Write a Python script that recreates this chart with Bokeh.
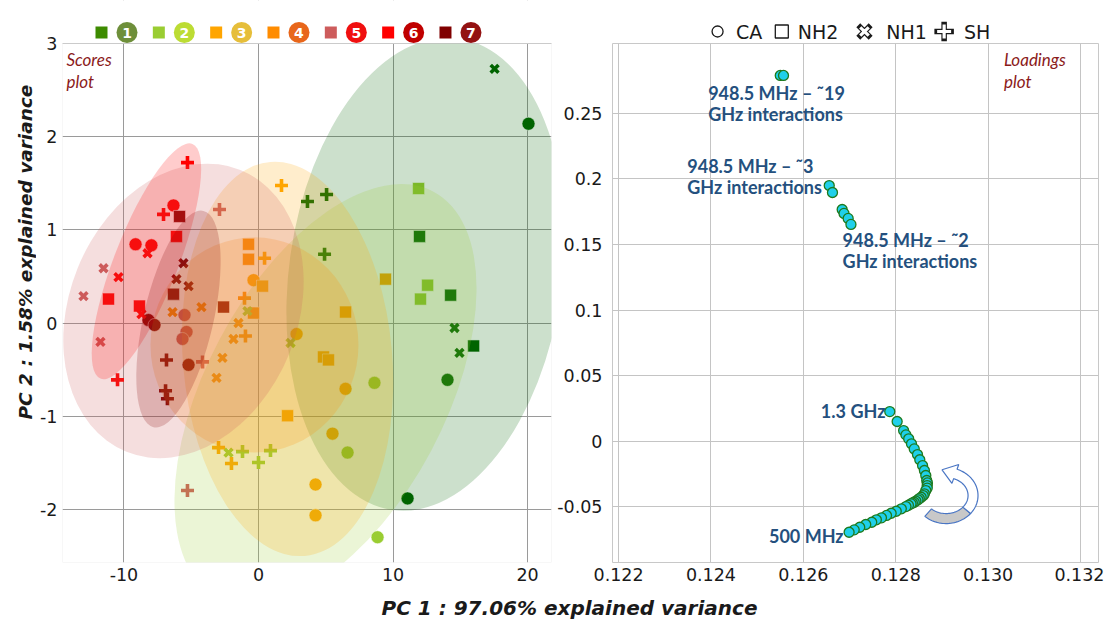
import numpy as np
from bokeh.plotting import figure
from bokeh.models import Label, Range1d, FixedTicker, PrintfTickFormatter, BoxAnnotation
from bokeh.layouts import row, column
from bokeh.core.properties import value
from bokeh.embed import file_html
from bokeh.resources import INLINE

# ---------------- data : scores plot ----------------
group_names = ["1", "2", "3", "4", "5", "6", "7"]
group_colors = ["#006400", "#9acd32", "#ffa500", "#ff8c00", "#cd5c5c", "#ff0000", "#800000"]
legend_square_colors = ["#3d8b00", "#9acd32", "#ffa500", "#ff8c00", "#cd5c5c", "#ff0000", "#800000"]
legend_badge_colors = ["#6e8f3a", "#bcdc34", "#e6be3a", "#e8661a", "#f01010", "#c00000", "#931212"]

# CA (circles)
ca_x = [20.07, 14.05, 11.08, 8.62, 6.62, 8.85, 2.83, 6.47, 5.50, 4.24, 4.24, -0.37,
        -5.50, -5.35, -5.65, -6.32, -9.14, -7.96, -8.18, -7.73, -5.20]
ca_y = [2.139, -0.610, -1.882, -0.642, -1.390, -2.299, -0.118, -0.706, -1.187, -1.733, -2.064, 0.460,
        0.086, -0.096, -0.171, 1.262, 0.845, 0.834, 0.032, -0.021, -0.449]
ca_g = [1, 1, 1, 2, 2, 2, 3, 3, 3, 3, 3, 3, 5, 5, 5, 6, 6, 6, 7, 7, 7]

# NH2 (squares)
nh2_x = [11.97, 14.28, 15.99, 11.90, 12.57, 12.04, 9.44, 6.47, 4.83, 5.20, 2.16, 0.30,
         -0.74, -0.74, -0.37, -6.10, -11.15, -8.85, -5.87, -6.32, -2.60]
nh2_y = [0.930, 0.299, -0.246, 1.444, 0.406, 0.257, 0.471, 0.118, -0.364, -0.396, -0.995, 0.396,
         0.845, 0.684, 0.107, 0.930, 0.257, 0.182, 1.144, 0.310, 0.171]
nh2_g = [1, 1, 1, 2, 2, 2, 3, 3, 3, 3, 3, 3, 4, 4, 4, 6, 6, 6, 7, 7, 7]

# NH1 (x)
nh1_x = [17.55, 14.57, 14.94, -2.23, 2.38, -0.82, -6.39, -4.24, -1.49, -1.86, -2.68, -3.12,
         -11.52, -13.01, -11.75, -8.25, -10.41, -8.70, -5.58, -6.10, -5.20]
nh1_y = [2.727, -0.053, -0.321, -1.390, -0.214, 0.128, 0.118, 0.171, 0.0, -0.171, -0.374, -0.588,
         0.588, 0.289, -0.203, 0.749, 0.492, 0.096, 0.642, 0.471, 0.396]
nh1_g = [1, 1, 1, 2, 2, 2, 4, 4, 4, 4, 4, 4, 5, 5, 5, 6, 6, 6, 7, 7, 7]

# SH (plus)
sh_x = [3.64, 5.06, 4.91, -1.19, 0.89, 0.0, 1.71, 0.45, -2.97, -2.01, -1.04, -0.97,
        -2.90, -4.16, -5.28, -5.28, -7.06, -10.48, -6.84, -6.91, -6.77]
sh_y = [1.305, 1.380, 0.738, -1.380, -1.369, -1.497, 1.476, 0.695, -1.337, -1.508, 0.267, -0.139,
        1.219, -0.417, -1.797, 1.722, 1.166, -0.610, -0.396, -0.727, -0.813]
sh_g = [1, 1, 1, 2, 2, 2, 3, 3, 3, 3, 4, 4, 5, 5, 5, 6, 6, 6, 7, 7, 7]

# confidence ellipses (one per group)
ell_x = [12.42, 4.98, 2.16, -0.30, -5.58, -8.33, -5.95]
ell_y = [0.524, -0.770, -0.385, -0.235, 0.130, 0.663, 0.043]
ell_w = [35.4, 34.2, 29.4, 15.46, 22.6, 18.74, 16.5]
ell_h = [2.93, 2.567, 2.246, 2.31, 2.45, 0.684, 0.749]
ell_angle_deg = [82, 62, 95, 0, 68, 68.6, 77]

score_x_ticks = [-10, 0, 10, 20]
score_y_ticks = [-2, -1, 0, 1, 2, 3]

# ---------------- data : loadings plot ----------------
load_x = [0.12550, 0.12557, 0.12656, 0.12663, 0.12684, 0.12688, 0.12697, 0.12703,
          0.12787, 0.12803, 0.12817, 0.12822, 0.12828, 0.12834, 0.12840, 0.12847,
          0.12852, 0.12858, 0.12862, 0.12865, 0.12867, 0.128685, 0.12868, 0.128681,
          0.12865, 0.12862, 0.128595, 0.12855, 0.128510, 0.12848, 0.128435, 0.12840,
          0.128360, 0.12833, 0.128274, 0.12822, 0.12812, 0.12801, 0.12790, 0.12780,
          0.12769, 0.12758, 0.12748, 0.12735, 0.12722, 0.12710, 0.12699]
load_y = [0.2790, 0.2790, 0.1950, 0.1897, 0.1767, 0.1737, 0.1699, 0.1653,
          0.0225, 0.0149, 0.0080, 0.0047, 0.0017, -0.0021, -0.0060, -0.0103,
          -0.0143, -0.0187, -0.0225, -0.0263, -0.0301, -0.0320, -0.0340, -0.0359,
          -0.0378, -0.0403, -0.0416, -0.0429, -0.0439, -0.0449, -0.0458, -0.0467,
          -0.0473, -0.0479, -0.0490, -0.0500, -0.0517, -0.0536, -0.0551, -0.0568,
          -0.0586, -0.0601, -0.0620, -0.0637, -0.0658, -0.0678, -0.0696]

load_labels = ["948.5 MHz \u2013 \u02dc19\nGHz interactions",
               "948.5 MHz \u2013 \u02dc3\nGHz interactions",
               "948.5 MHz \u2013 \u02dc2\nGHz interactions",
               "1.3 GHz", "500 MHz"]
load_label_x = [0.123940, 0.123487, 0.126849, 0.127776, 0.126871]
load_label_y = [0.2576, 0.2019, 0.1454, 0.0233, -0.0721]
load_label_align = ["left", "left", "left", "right", "right"]

load_x_ticks = [0.122, 0.124, 0.126, 0.128, 0.130, 0.132]
load_y_ticks = [-0.05, 0.0, 0.05, 0.1, 0.15, 0.2, 0.25]
load_y_tick_text = ["-0.05", "0", "0.05", "0.1", "0.15", "0.2", "0.25"]

shape_names = ["CA", "NH2", "NH1", "SH"]

TICK_FONT = "DejaVu Sans"
ANN_FONT = "Lato"
TITLE_FONT = "DejaVu Sans"
DARKRED = "#8b1a1a"
BLUE_TXT = "#24507e"
TXT = "#1a1a1a"
FRAME_GRAY = "#c8c8c8"

# layout constants (pixels)
LEG_H = 43          # height of the legend strip above the plots
PLOT_FRAME_H = 519  # height of the plotting area
X_AX_H = 30         # room for the x tick labels
YT_W = 36           # width of the y-title column


def bare_fig(w, h, xr, yr, bl=0, br=0):
    f = figure(width=w, height=h, x_range=xr, y_range=yr, x_axis_type=None, y_axis_type=None,
               output_backend="svg", toolbar_location=None, title=None,
               min_border_left=bl, min_border_right=br, min_border_top=0, min_border_bottom=0)
    f.outline_line_color = None
    f.background_fill_color = "white"
    f.border_fill_color = "white"
    return f


def style_axes(p, grid_color):
    for ax in (p.xaxis, p.yaxis):
        ax.axis_line_color = None
        ax.major_tick_line_color = None
        ax.minor_tick_line_color = None
        ax.major_tick_out = 0
        ax.major_tick_in = 0
        ax.minor_tick_out = 0
        ax.minor_tick_in = 0
        ax.major_label_text_font = TICK_FONT
        ax.major_label_text_font_size = "17.5px"
        ax.major_label_text_color = TXT
    p.xaxis.major_label_standoff = 5
    p.grid.grid_line_color = grid_color
    p.grid.grid_line_width = 1
    p.outline_line_color = FRAME_GRAY
    p.outline_line_width = 1


# ================= scores plot (frame also holds the legend strip on top) =================
SX0, SX1, SY0, SY1 = -14.57, 21.78, -2.57, 3.0
sy_scale = PLOT_FRAME_H / (SY1 - SY0)
sx_scale = 489.0 / (SX1 - SX0)
p1 = figure(width=62 - YT_W + 489 + 3, height=LEG_H + PLOT_FRAME_H + X_AX_H,
            x_range=Range1d(SX0, SX1), y_range=Range1d(SY0, SY1 + LEG_H / sy_scale),
            output_backend="svg", toolbar_location=None, title=None,
            min_border_left=62 - YT_W, min_border_right=3, min_border_top=0,
            min_border_bottom=X_AX_H)
style_axes(p1, "#9a9a9a")
p1.outline_line_color = None
p1.xaxis.ticker = FixedTicker(ticks=score_x_ticks)
p1.yaxis.ticker = FixedTicker(ticks=score_y_ticks)
p1.xaxis.major_label_overrides = {t: str(t) for t in score_x_ticks}
p1.yaxis.major_label_overrides = {t: str(t) for t in score_y_ticks}
p1.yaxis.major_label_standoff = 5


def cols(gs):
    return [group_colors[g - 1] for g in gs]


p1.scatter(ca_x, ca_y, marker="circle", size=13, fill_color=cols(ca_g),
           line_color="white", line_width=0.8, line_alpha=0.7)
p1.scatter(nh2_x, nh2_y, marker="square", size=12, fill_color=cols(nh2_g),
           line_color="white", line_width=0.8, line_alpha=0.7)
p1.scatter(nh1_x, nh1_y, marker="x", size=11, line_color=cols(nh1_g), line_width=3.6)
p1.scatter(sh_x, sh_y, marker="cross", size=13, line_color=cols(sh_g), line_width=3.6)

p1.ellipse(x=ell_x, y=ell_y, width=ell_w, height=ell_h,
           angle=[np.deg2rad(a) for a in ell_angle_deg],
           fill_color=group_colors, fill_alpha=0.2, line_color=None)

# blank strip above the plotting area, then the plot frame
p1.add_layout(BoxAnnotation(bottom=SY1, fill_color="white", fill_alpha=1.0, line_color=None))
p1.add_layout(BoxAnnotation(top=SY1, bottom=SY0, left=SX0, right=SX1, fill_alpha=0.0,
                            line_color=FRAME_GRAY, line_width=1))

p1.add_layout(Label(x=-14.28, y=2.71, text="Scores\nplot", text_font=ANN_FONT,
                    text_font_style="italic", text_font_size="17px", text_color=DARKRED,
                    text_align="left", text_baseline="middle", text_line_height=1.08))

# group legend in the strip (positions: pixels from the frame's left / top edge)
leg_start, leg_step, badge_off, leg_cy_px = 39.0, 57.33, 25.5, 11.0
sq_x = [SX0 + (leg_start + i * leg_step) / sx_scale for i in range(len(group_names))]
bd_x = [x + badge_off / sx_scale for x in sq_x]
leg_y = [SY1 + leg_cy_px / sy_scale] * len(group_names)
p1.scatter(sq_x, leg_y, marker="square", size=12, fill_color=legend_square_colors,
           line_color=None, level="overlay")
p1.scatter(bd_x, leg_y, marker="circle", size=21, fill_color=legend_badge_colors,
           line_color=None, level="overlay")
p1.text(bd_x, leg_y, text=group_names, text_color="white",
        text_font=value(TICK_FONT), text_font_style="bold", text_font_size="14px",
        text_align="center", text_baseline="middle", level="overlay")

# ================= loadings plot =================
p2 = figure(width=550, height=PLOT_FRAME_H + X_AX_H, x_range=Range1d(0.121869, 0.132388),
            y_range=Range1d(-0.0927, 0.3034),
            output_backend="svg", toolbar_location=None, title=None,
            min_border_left=56, min_border_right=6, min_border_top=0, min_border_bottom=X_AX_H)
style_axes(p2, "#c4c4c4")
p2.xaxis.ticker = FixedTicker(ticks=load_x_ticks)
p2.xaxis.formatter = PrintfTickFormatter(format="%.3f")
p2.yaxis.ticker = FixedTicker(ticks=load_y_ticks)
p2.yaxis.major_label_overrides = dict(zip(load_y_ticks, load_y_tick_text))
p2.yaxis.major_label_standoff = 10


# curved arrow decoration (shape built in pixel space, mapped to data)
def px2data(px, py):
    return 0.122 + (np.asarray(px) - 616.0) / 46400.0, (440.5 - np.asarray(py)) * 0.05 / 65.5


cx_, cy_, rx_, ry_, th = 945.0, 495.0, 27.0, 23.0, 5.0


def arc(ph, off):
    return cx_ + (rx_ + off) * np.cos(ph), cy_ - (ry_ + off) * np.sin(ph)


ph_band = np.deg2rad(np.linspace(-132, -40, 30))
ox, oy = arc(ph_band, th)
ix, iy = arc(ph_band[::-1], -th)
bx, by = px2data(np.r_[ox, ix], np.r_[oy, iy])
p2.patch(bx, by, fill_color="#c8c8c8", line_color="#4a76c4", line_width=1.2)

ph_up = np.deg2rad(np.linspace(-40, 70, 40))
ox, oy = arc(ph_up, th)
ix, iy = arc(ph_up[::-1], -th)
phe = np.deg2rad(70)
bxp, byp = arc(phe, 0)
tang = np.array([-rx_ * np.sin(phe), -ry_ * np.cos(phe)])
tang /= np.linalg.norm(tang)
nrm = np.array([np.cos(phe), -np.sin(phe)])
head_x = [bxp + 10 * nrm[0], bxp + 14 * tang[0], bxp - 10 * nrm[0]]
head_y = [byp + 10 * nrm[1], byp + 14 * tang[1], byp - 10 * nrm[1]]
ux, uy = px2data(np.r_[ox, head_x, ix], np.r_[oy, head_y, iy])
p2.patch(ux, uy, fill_color="white", line_color="#4a76c4", line_width=1.2)

p2.scatter(load_x, load_y, marker="circle", size=10, fill_color="#1fd0ea",
           line_color="#1e7a1e", line_width=1.3)

for t, lx, ly, al in zip(load_labels, load_label_x, load_label_y, load_label_align):
    p2.add_layout(Label(x=lx, y=ly, text=t, text_font=ANN_FONT, text_font_style="bold",
                        text_font_size="18px", text_color=BLUE_TXT, text_align=al,
                        text_baseline="middle", text_line_height=0.97))

p2.add_layout(Label(x=0.130341, y=0.2828, text="Loadings\nplot", text_font=ANN_FONT,
                    text_font_style="italic", text_font_size="17px", text_color=DARKRED,
                    text_align="left", text_baseline="middle", text_line_height=1.08))

# shape legend strip above the loadings plot (pixels from the frame's left edge)
leg2 = bare_fig(550, LEG_H, Range1d(0, 488), Range1d(0, LEG_H), bl=56, br=6)
mk_x = [105.5, 170.0, 253.0, 333.0]
lab_x = [124.0, 186.0, 275.0, 353.0]
cy2 = 12.0
leg2.scatter([mk_x[0]], [cy2], marker="circle", size=11, fill_color="white",
             line_color=TXT, line_width=1.3)
leg2.scatter([mk_x[1]], [cy2], marker="square", size=13, fill_color="white",
             line_color=TXT, line_width=1.3)
leg2.scatter([mk_x[2]], [cy2], marker="x", size=12, line_color=TXT, line_width=5.5,
             line_cap="square")
leg2.scatter([mk_x[2]], [cy2], marker="x", size=12, line_color="white", line_width=3.2)
leg2.scatter([mk_x[3]], [cy2], marker="cross", size=14, line_color=TXT, line_width=5.5,
             line_cap="square")
leg2.scatter([mk_x[3]], [cy2], marker="cross", size=14, line_color="white", line_width=3.2)
leg2.text(lab_x, [cy2] * 4, text=shape_names, text_color=TXT, text_font=value(TICK_FONT),
          text_font_size="19px", text_align="left", text_baseline="middle")

# axis titles
TOP_H = LEG_H + PLOT_FRAME_H + X_AX_H
ytitle = bare_fig(YT_W, TOP_H, Range1d(0, YT_W), Range1d(0, TOP_H))
ytitle.text([24.5], [TOP_H - 265], text=["PC 2 : 1.58% explained variance"], angle=np.pi / 2,
            text_font=value(TITLE_FONT), text_font_style="bold italic", text_font_size="18.5px",
            text_color=TXT, text_align="center", text_baseline="middle")

xtitle = bare_fig(1104, 28, Range1d(0, 1104), Range1d(0, 28))
xtitle.text([569], [13], text=["PC 1 : 97.06% explained variance"],
            text_font=value(TITLE_FONT), text_font_style="bold italic", text_font_size="20px",
            text_color=TXT, text_align="center", text_baseline="middle")

layout = column(row(ytitle, p1, column(leg2, p2)), xtitle)
open("out.html", "w").write(file_html(layout, INLINE))
